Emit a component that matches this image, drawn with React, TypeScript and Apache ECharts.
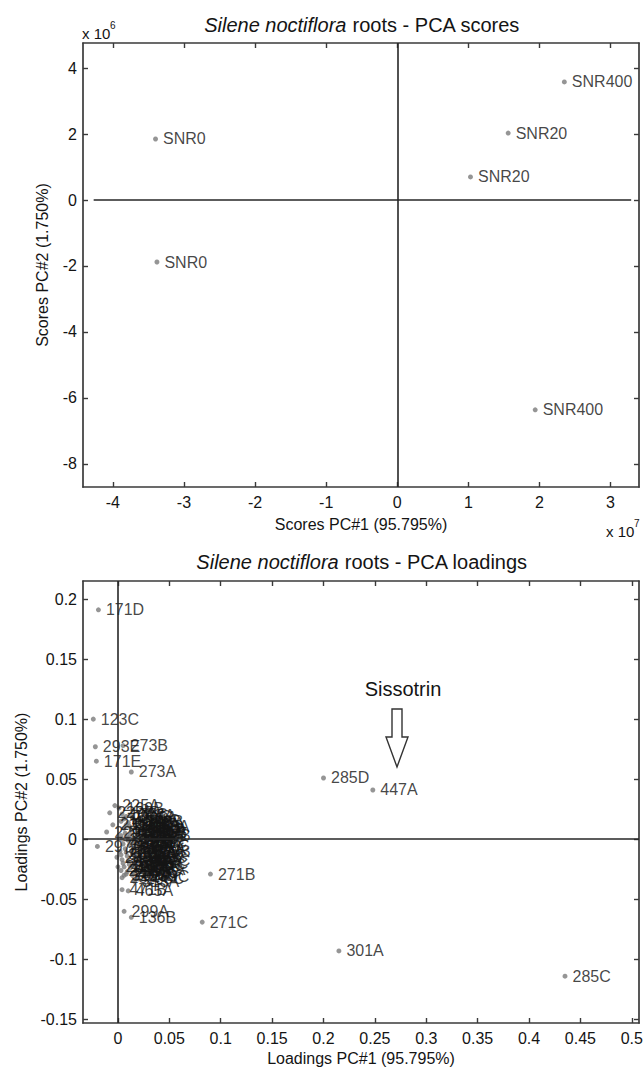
import React, { useEffect, useRef } from "react";
import * as echarts from "echarts";

// ---- Scores (PC1 in units of 10^7, PC2 in units of 10^6) ----
const scoreLabels = ["SNR400", "SNR20", "SNR20", "SNR0", "SNR0", "SNR400"];
const scorePC1 = [2.35, 1.56, 1.03, -3.4, -3.38, 1.94];
const scorePC2 = [3.58, 2.03, 0.7, 1.85, -1.88, -6.36];

const scoreXTicks = [-4, -3, -2, -1, 0, 1, 2, 3];
const scoreYTicks = [-8, -6, -4, -2, 0, 2, 4];

// ---- Loadings ----
const loadingLabels = [
  "171D", "123C", "293E", "273B", "171E", "273A", "285D", "447A", "271B", "271C", "301A", "285C",
  "299A", "136B", "471B", "465A",
  "169B", "177C", "173C", "153A", "257B", "447C", "289C", "137A", "139B", "141C", "143A", "145B",
  "147C", "149A", "151B", "155C", "157A", "159B", "161C", "163A", "165B", "167C", "175A", "179B",
  "181C", "183A", "185B", "187C", "189A", "191B", "193C", "195A", "197B", "199C", "201A", "203B",
  "205C", "207A", "209B", "211C", "213A", "215B", "217C", "219A", "221B", "223C",
  "225A", "227B", "229C", "231A", "297A", "233B", "235C", "237A",
  "239B", "241C", "243A", "245B", "247C", "249A", "251B", "253C", "255A", "259C",
  "261A", "263B", "265C", "267A", "269B", "275C", "277A", "279B", "281C", "283A",
  "287B", "291C", "295A", "303B", "305C", "307A", "309B", "311C", "313A", "315B",
];
const loadingPC1 = [
  -0.019, -0.024, -0.022, 0.005, -0.021, 0.013, 0.2, 0.248, 0.09, 0.082, 0.215, 0.435,
  0.006, 0.013, 0.004, 0.01,
  0.001, 0.004, 0.008, 0.026, 0.027, 0.026, 0.025, 0.003, 0.01, 0.016, 0.021, 0.006,
  0.013, 0.019, 0.023, 0.003, 0.009, 0.015, 0.02, 0.005, 0.011, 0.017, 0.022, 0.002,
  0.008, 0.014, 0.019, 0.004, 0.01, 0.016, 0.021, 0.006, 0.012, 0.018, 0.008, 0.014,
  0.02, 0.012, 0.018, 0.024, 0.007, 0.013, 0.009, 0.015, 0.003, 0.022,
  -0.003, -0.008, -0.011, -0.005, -0.02, -0.001, 0.0, 0.004,
  0.006, 0.011, 0.017, 0.022, 0.025, 0.004, 0.01, 0.016, 0.021, 0.007,
  0.013, 0.018, 0.023, 0.005, 0.011, 0.017, 0.022, 0.009, 0.015, 0.019,
  0.012, 0.008, 0.014, 0.02, 0.024, 0.003, 0.027, 0.006, 0.016, 0.024,
];
const loadingPC2 = [
  0.191, 0.1, 0.077, 0.078, 0.065, 0.056, 0.051, 0.041, -0.029, -0.069, -0.093, -0.114,
  -0.06, -0.065, -0.042, -0.043,
  0.026, 0.021, 0.019, 0.011, 0.003, -0.018, -0.031, 0.015, 0.014, 0.016, 0.013, 0.009,
  0.008, 0.007, 0.005, 0.003, 0.002, 0.001, -0.001, -0.004, -0.005, -0.006, -0.008, -0.01,
  -0.011, -0.012, -0.014, -0.017, -0.018, -0.019, -0.021, -0.023, -0.024, -0.026, -0.029, -0.03,
  -0.033, 0.02, 0.01, -0.003, 0.005, -0.002, -0.014, -0.008, -0.026, 0.002,
  0.028, 0.022, 0.006, 0.012, -0.006, -0.015, -0.023, -0.032,
  0.017, 0.011, 0.012, 0.008, -0.005, 0.0, -0.001, -0.003, -0.011, -0.008,
  -0.01, -0.017, -0.015, -0.02, -0.021, -0.023, -0.025, -0.027, -0.028, 0.004,
  0.004, 0.012, 0.018, 0.015, -0.02, -0.013, -0.01, -0.03, -0.035, 0.006,
];

const loadXTicks = [0, 0.05, 0.1, 0.15, 0.2, 0.25, 0.3, 0.35, 0.4, 0.45, 0.5];
const loadYTicks = [-0.15, -0.1, -0.05, 0, 0.05, 0.1, 0.15, 0.2];

const FONT = '"Liberation Sans", Arial, Helvetica, sans-serif';
const AXIS = "#3a3a3a";
const TXT = "#141414";

function axisPair(
  kind: "x" | "y",
  gridIndex: number,
  min: number,
  max: number,
  ticks: number[],
  name: string,
  nameGap: number
) {
  const common: any = {
    type: "value",
    gridIndex,
    min,
    max,
    splitLine: { show: false },
    axisLine: { show: true, onZero: false, lineStyle: { color: AXIS, width: 1.7 } },
    axisTick: {
      show: true,
      inside: true,
      length: 5,
      customValues: ticks,
      lineStyle: { color: AXIS, width: 1.4 },
    },
  };
  return [
    {
      ...common,
      position: kind === "x" ? "bottom" : "left",
      axisLabel: {
        show: true,
        customValues: ticks,
        margin: kind === "x" ? 7 : 6,
        color: TXT,
        fontSize: 16,
        fontFamily: FONT,
        formatter: (v: number) => String(v),
      },
      name,
      nameLocation: "middle",
      nameGap,
      nameTextStyle: { color: TXT, fontSize: 16, fontFamily: FONT },
    },
    {
      ...common,
      position: kind === "x" ? "top" : "right",
      axisLabel: { show: false },
    },
  ];
}

const pointLabel = {
  show: true,
  position: "right",
  distance: 5,
  color: TXT,
  fontSize: 16,
  fontFamily: FONT,
  textBorderWidth: 0,
  textBorderColor: "transparent",
  formatter: (p: any) => p.data[2],
};

const zeroLine = { color: "#262626", width: 1.6, type: "solid" };

export default function App() {
  const ref = useRef<HTMLDivElement>(null);
  useEffect(() => {
    if (!ref.current) return;
    const chart = echarts.init(ref.current, null, { renderer: "svg" });

    const scoreData = scorePC1.map((x, i) => [x, scorePC2[i], scoreLabels[i]]);
    const loadData = loadingPC1.map((x, i) => [x, loadingPC2[i], loadingLabels[i]]);

    const topX = axisPair("x", 0, -4.42, 3.4, scoreXTicks, "Scores PC#1 (95.795%)", 29);
    const botX = axisPair("x", 1, -0.034, 0.507, loadXTicks, "Loadings PC#1 (95.795%)", 27);
    const topY = axisPair("y", 0, -8.7, 4.76, scoreYTicks, "Scores PC#2 (1.750%)", 33);
    const botY = axisPair("y", 1, -0.153, 0.215, loadYTicks, "Loadings PC#2 (1.750%)", 53);

    const option: any = {
      animation: false,
      backgroundColor: "#ffffff",
      grid: [
        { left: 83, top: 43, width: 556, height: 444, containLabel: false, outerBoundsMode: "none" },
        { left: 83, top: 581, width: 556, height: 442, containLabel: false, outerBoundsMode: "none" },
      ],
      xAxis: [...topX, ...botX],
      yAxis: [...topY, ...botY],
      series: [
        {
          type: "scatter",
          xAxisIndex: 0,
          yAxisIndex: 0,
          data: scoreData,
          symbol: "circle",
          symbolSize: 5,
          itemStyle: { color: "#7a7a7a" },
          label: pointLabel,
          markLine: {
            silent: true,
            symbol: "none",
            label: { show: false },
            lineStyle: zeroLine,
            data: [[{ coord: [-4.27, 0] }, { coord: [3.29, 0] }], { xAxis: 0 }],
          },
        },
        {
          type: "scatter",
          xAxisIndex: 2,
          yAxisIndex: 2,
          data: loadData,
          symbol: "circle",
          symbolSize: 5,
          itemStyle: { color: "#7a7a7a" },
          label: pointLabel,
          markLine: {
            silent: true,
            symbol: "none",
            label: { show: false },
            lineStyle: zeroLine,
            data: [{ yAxis: 0 }, { xAxis: 0 }],
          },
        },
      ],
      graphic: [
        {
          type: "text",
          x: 362,
          y: 25,
          style: {
            text: "{i|Silene noctiflora} roots - PCA scores",
            fontSize: 20,
            fontFamily: FONT,
            fill: TXT,
            align: "center",
            verticalAlign: "middle",
            rich: { i: { fontStyle: "italic", fontSize: 20, fontFamily: FONT, fill: TXT } },
          },
        },
        {
          type: "text",
          x: 362,
          y: 562,
          style: {
            text: "{i|Silene noctiflora} roots - PCA loadings",
            fontSize: 20,
            fontFamily: FONT,
            fill: TXT,
            align: "center",
            verticalAlign: "middle",
            rich: { i: { fontStyle: "italic", fontSize: 20, fontFamily: FONT, fill: TXT } },
          },
        },
        {
          type: "text",
          x: 82,
          y: 33,
          style: { text: "x 10", fontSize: 15, fontFamily: FONT, fill: TXT, align: "left", verticalAlign: "middle" },
        },
        {
          type: "text",
          x: 110,
          y: 25,
          style: { text: "6", fontSize: 10, fontFamily: FONT, fill: TXT, align: "left", verticalAlign: "middle" },
        },
        {
          type: "text",
          x: 606,
          y: 531,
          style: { text: "x 10", fontSize: 15, fontFamily: FONT, fill: TXT, align: "left", verticalAlign: "middle" },
        },
        {
          type: "text",
          x: 634,
          y: 523,
          style: { text: "7", fontSize: 10, fontFamily: FONT, fill: TXT, align: "left", verticalAlign: "middle" },
        },
        {
          type: "text",
          x: 403,
          y: 689,
          style: { text: "Sissotrin", fontSize: 20, fontFamily: FONT, fill: TXT, align: "center", verticalAlign: "middle" },
        },
        {
          type: "polygon",
          shape: {
            points: [
              [392, 709],
              [402, 709],
              [402, 737],
              [408, 737],
              [397, 767],
              [386, 737],
              [392, 737],
            ],
          },
          style: { fill: "#ffffff", stroke: "#333333", lineWidth: 1.4 },
        },
      ],
    };
    chart.setOption(option);
    return () => chart.dispose();
  }, []);
  return (
    <div
      ref={ref}
      style={{ position: "absolute", left: 0, top: 0, width: 644, height: 1067, background: "#fff" }}
    />
  );
}
